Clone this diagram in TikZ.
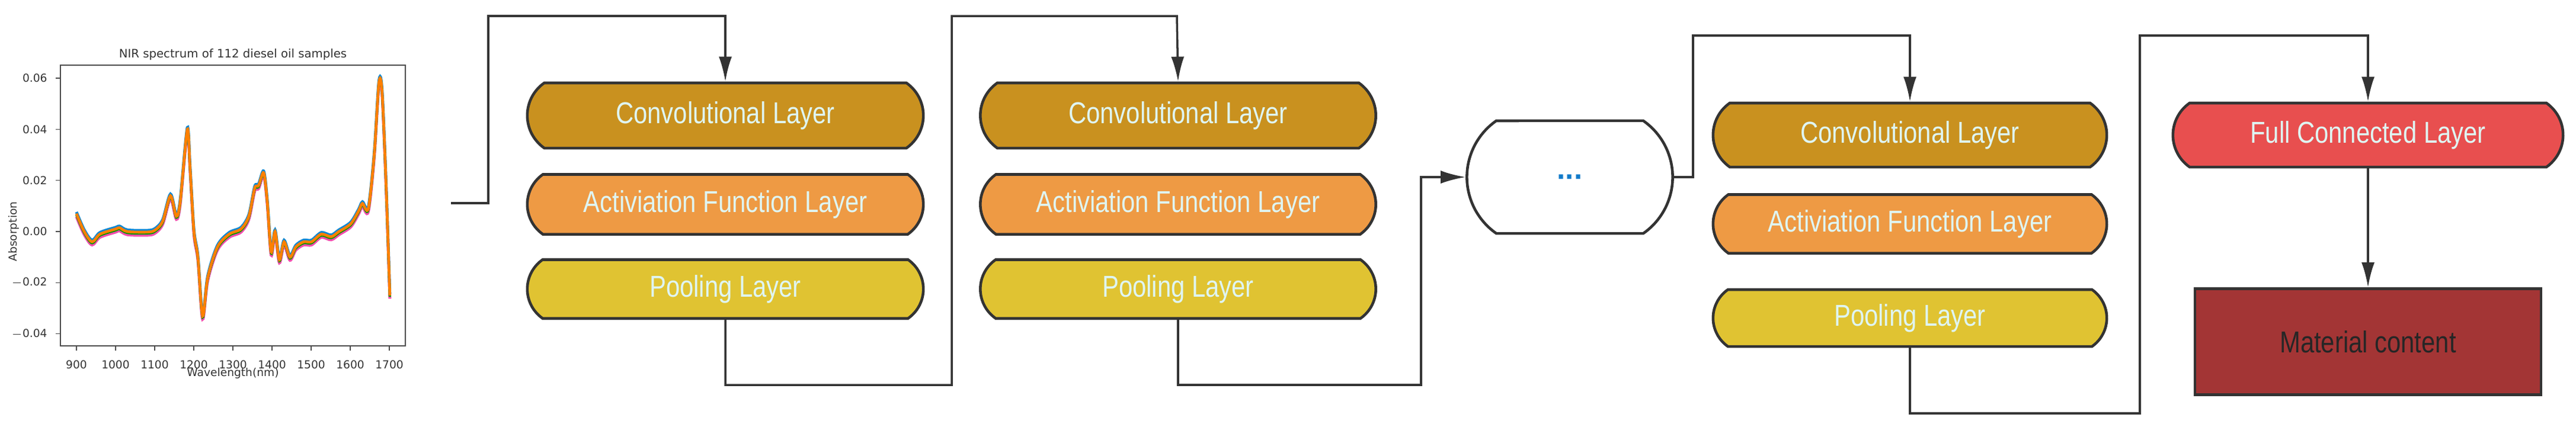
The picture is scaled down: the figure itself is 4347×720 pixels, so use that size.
\documentclass[tikz,border=0pt]{standalone}
\usepackage{fontspec}
\setmainfont{Liberation Sans}
\newfontfamily\mpl{DejaVu Sans}
\usetikzlibrary{shapes.misc,arrows.meta}
\definecolor{convc}{HTML}{C9911F}
\definecolor{actc}{HTML}{EE9A44}
\definecolor{poolc}{HTML}{E0C332}
\definecolor{fcc}{HTML}{E84F4F}
\definecolor{matc}{HTML}{A33535}
\definecolor{txtc}{HTML}{DFF5F2}
\definecolor{linec}{HTML}{333333}
\newcommand{\nar}[1]{\scalebox{0.82}[1]{#1}}
\begin{document}
\begin{tikzpicture}[x=0.01cm,y=-0.01cm,
  layer/.style={rounded rectangle, rounded rectangle arc length=110, draw=linec, line width=1.3pt, inner sep=0pt,
     text=txtc, font=\fontsize{14.5}{16}\selectfont},
  conn/.style={draw=linec, line width=1pt},
  arr/.style={conn, -{Latex[length=0.42cm,width=0.22cm]}},
  tick/.style={font=\mpl\fontsize{5.3}{6}\selectfont, text=black!80}]
\useasboundingbox (0,0) rectangle (4347,720);
% ---- plot
\draw[black!70, line width=0.5pt] (102,110) rectangle (684,584);
\node[tick, font=\mpl\fontsize{5.6}{6}\selectfont] (ttl) at (393,92) {NIR spectrum of 112 diesel oil samples};
\node[tick, rotate=90] (ylab) at (23,391) {Absorption};
\node[tick] (xlab) at (393,630) {Wavelength(nm)};
\foreach \v/\l in {0.06/0.06,0.04/0.04,0.02/0.02,0/0.00,-0.02/{$-$0.02},-0.04/{$-$0.04}}{
  \draw[black!70,line width=0.4pt] (102,391-4320*\v) -- ++(-8,0);
  \node[tick, anchor=east] at (92,391-4320*\v) {\l};
}
\foreach \w in {900,1000,...,1700}{
  \draw[black!70,line width=0.4pt] (129+0.66*\w-594,584) -- ++(0,8);
  \node[tick, anchor=north] at (129+0.66*\w-594,596) {\w};
}
\begin{scope}[shift={(129,391)}, x=0.0066cm, y=43.2cm]
\def\spec{(0,0.007) (20,0.0) (40,-0.004) (60,-0.001) (100,0.001) (110,0.0015) (130,0.0) (180,-0.0002) (200,0.0005) (220,0.004) (240,0.014) (255,0.006) (265,0.012) (283,0.040) (290,0.025) (300,0.0) (310,-0.01) (322,-0.033) (335,-0.018) (360,-0.006) (390,-0.001) (420,0.001) (440,0.006) (455,0.017) (465,0.018) (478,0.023) (487,0.012) (497,-0.008) (507,0.0) (518,-0.011) (530,-0.004) (545,-0.010) (560,-0.006) (580,-0.004) (600,-0.004) (625,-0.001) (650,-0.002) (670,0.0) (700,0.003) (720,0.008) (730,0.011) (745,0.009) (760,0.030) (772,0.058) (780,0.055) (790,0.020) (800,-0.025)}
\draw[magenta!70, line width=1.4pt, yshift=-1.5pt] plot[smooth, tension=0.5] coordinates {\spec};
\draw[cyan!70!blue, line width=1.4pt, yshift=0.8pt] plot[smooth, tension=0.5] coordinates {\spec};
\draw[green!60!black, line width=1.2pt, yshift=-0.6pt] plot[smooth, tension=0.5] coordinates {\spec};
\draw[orange, line width=1.3pt] plot[smooth, tension=0.5] coordinates {\spec};
\end{scope}
% ---- layers
\node[layer, fill=convc, minimum width=6.68cm, minimum height=1.10cm] (c1) at (1224,195) {\nar{Convolutional Layer}};
\node[layer, fill=actc, minimum width=6.68cm, minimum height=1.01cm] (a1) at (1224,345) {\nar{Activiation Function Layer}};
\node[layer, fill=poolc, minimum width=6.68cm, minimum height=0.99cm] (p1) at (1224,488) {\nar{Pooling Layer}};
\node[layer, fill=convc, minimum width=6.67cm, minimum height=1.10cm] (c2) at (1988,195) {\nar{Convolutional Layer}};
\node[layer, fill=actc, minimum width=6.67cm, minimum height=1.01cm] (a2) at (1988,345) {\nar{Activiation Function Layer}};
\node[layer, fill=poolc, minimum width=6.67cm, minimum height=0.99cm] (p2) at (1988,488) {\nar{Pooling Layer}};
\node[layer, fill=white, minimum width=3.47cm, minimum height=1.90cm, text=cyan!60!blue] (dots) at (2649,299) {\textbf{...}};
\node[layer, fill=convc, minimum width=6.64cm, minimum height=1.08cm] (c3) at (3223,228) {\nar{Convolutional Layer}};
\node[layer, fill=actc, minimum width=6.64cm, minimum height=0.99cm] (a3) at (3223,378) {\nar{Activiation Function Layer}};
\node[layer, fill=poolc, minimum width=6.64cm, minimum height=0.96cm] (p3) at (3223,537) {\nar{Pooling Layer}};
\node[layer, fill=fcc, minimum width=6.58cm, minimum height=1.08cm] (fc) at (3996,228) {\nar{Full Connected Layer}};
\node[rectangle, draw=linec, line width=1.3pt, fill=matc, minimum width=5.84cm, minimum height=1.79cm, text=black!85, font=\fontsize{14.5}{16}\selectfont] (mat) at (3996,577) {\nar{Material content}};
% ---- connectors
\coordinate (start) at (761,343);
\draw[arr] (start) -| (824,27) -| (c1.north);
\draw[arr] (p1.south) |- (1606,650) |- (1986,27) -- (c2.north);
\draw[arr] (p2.south) |- (2398,650) |- (dots.west);
\draw[arr] (dots.east) -| (2857,60) -| (c3.north);
\draw[arr] (p3.south) |- (3611,698) |- (3996,60) -- (fc.north);
\draw[arr] (fc.south) -- (mat.north);
\end{tikzpicture}
\end{document}
